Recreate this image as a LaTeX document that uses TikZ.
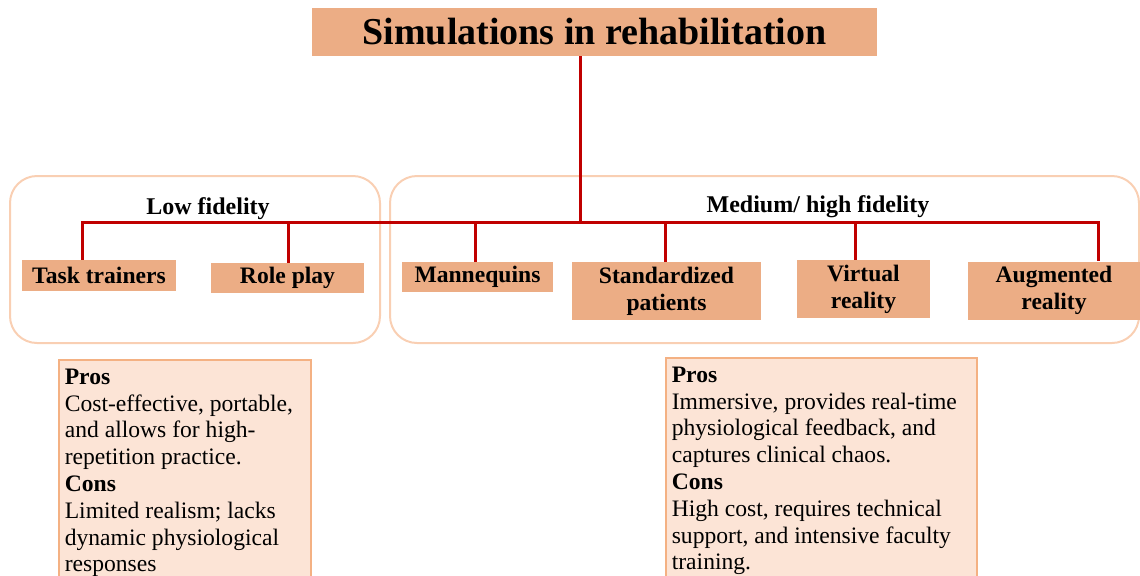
\documentclass[tikz,border=0pt]{standalone}
\usepackage{fontspec}
\setmainfont{Liberation Serif}
\usetikzlibrary{positioning}
\definecolor{boxfill}{HTML}{ECAD85}
\definecolor{linkred}{HTML}{C00000}
\definecolor{groupline}{HTML}{F9CFB3}
\definecolor{notefill}{HTML}{FCE4D6}
\definecolor{noteline}{HTML}{F4B183}

\begin{document}
\begin{tikzpicture}[x=0.5pt,y=-0.5pt,
  item/.style={fill=boxfill,inner sep=0pt,align=center,font=\fontsize{11.8}{13.5}\selectfont\bfseries},
  link/.style={draw=linkred,line width=1.5pt},
  group/.style={draw=groupline,line width=1pt,rounded corners=13.5pt},
  note/.style={fill=notefill,draw=noteline,line width=0.8pt,anchor=north west,align=flush left,
    inner xsep=3pt,inner ysep=4.5pt,font=\fontsize{11.8}{13.4}\selectfont}]
\useasboundingbox (0,0) rectangle (1140,575);

% the two fidelity groups
\draw[group] (10,176) rectangle (380,343);
\draw[group] (390,176) rectangle (1139,343);

\node[item,font=\fontsize{19}{22}\selectfont\bfseries,minimum width=282.5pt,minimum height=24pt] (title) at (594.5,32) {Simulations in rehabilitation};
\node[font=\fontsize{12}{14}\selectfont\bfseries] (low) at (208,209) {Low fidelity};
\node[font=\fontsize{12}{14}\selectfont\bfseries] (med) at (818,207) {Medium/ high fidelity};

\node[item,minimum width=77pt,minimum height=15.5pt] (task) at (99,275.5) {Task trainers};
\node[item,minimum width=76.5pt,minimum height=15pt] (role) at (287.5,278) {Role play};
\node[item,minimum width=75.5pt,minimum height=15pt] (mann) at (477.5,277) {Mannequins};
\node[item,minimum width=94.5pt,minimum height=29pt] (std) at (666.5,291) {Standardized\\patients};
\node[item,minimum width=66.5pt,minimum height=29pt] (vr) at (863.5,289) {Virtual\\reality};
\node[item,minimum width=86.5pt,minimum height=29pt] (ar) at (1054,290.5) {Augmented\\reality};

% tree lines
\coordinate (hub) at (580,222);
\foreach \x/\n in {82/task,288/role,475/mann,665/std,855/vr,1098/ar}
  \coordinate (d\n) at (\x,222);
\draw[link] (title.south -| hub) -- (hub);
\draw[link] (dtask |- task.north) -- (dtask) -- (dar) -- (dar |- ar.north);
\foreach \n in {role,mann,std,vr}
  \draw[link] (d\n) -- (d\n |- \n.north);

% pros and cons
\node[note,text width=120pt] (lownote) at (58,359) {\textbf{Pros}\\Cost-effective, portable,\\and allows for high-\\repetition practice.\\\textbf{Cons}\\Limited realism; lacks\\dynamic physiological\\responses};
\node[note,text width=149.5pt] (highnote) at (665,357) {\textbf{Pros}\\Immersive, provides real-time\\physiological feedback, and\\captures clinical chaos.\\\textbf{Cons}\\High cost, requires technical\\support, and intensive faculty\\training.};
\end{tikzpicture}
\end{document}
